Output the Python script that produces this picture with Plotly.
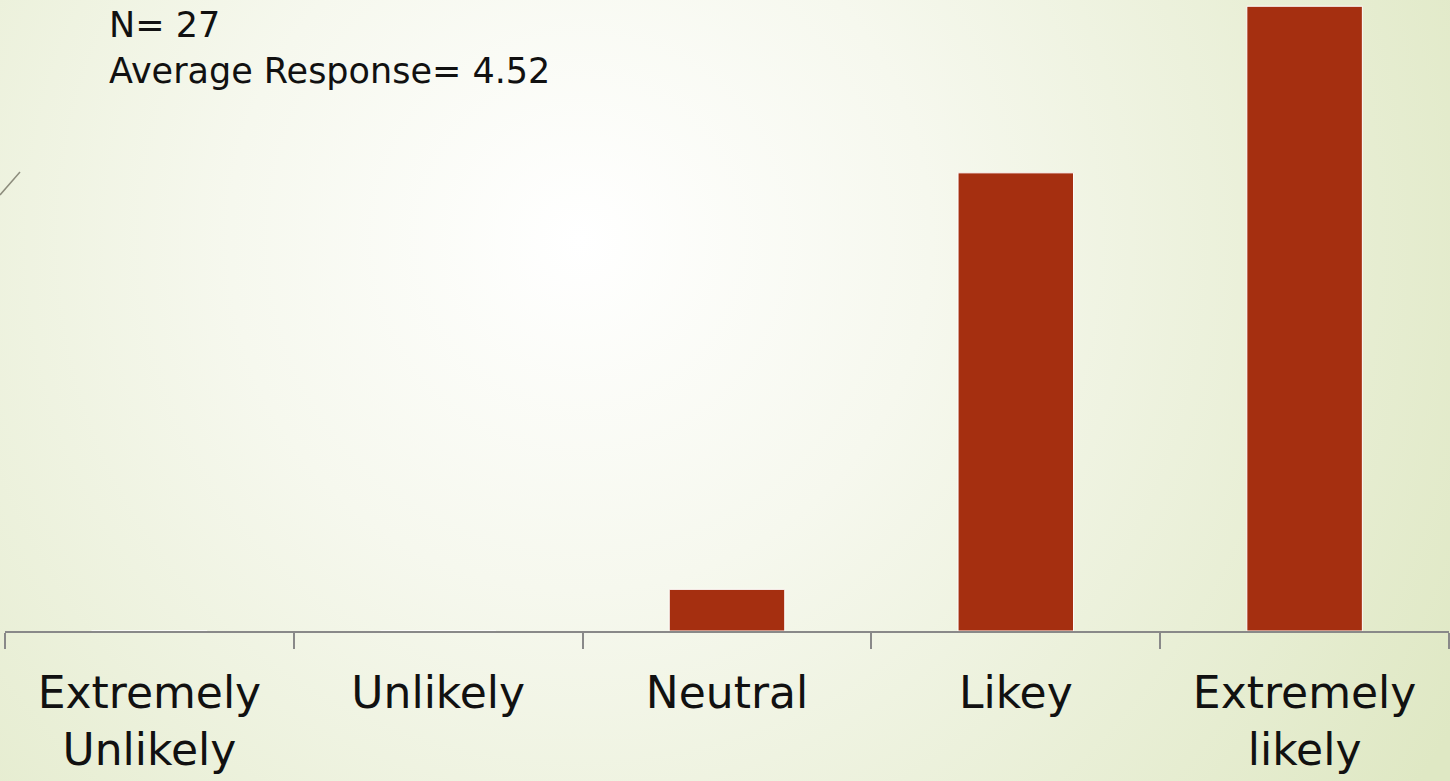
import base64
import plotly.graph_objects as go

# survey responses
categories = ["Extremely<br>Unlikely", "Unlikely", "Neutral", "Likey", "Extremely<br>likely"]
counts = [0, 0, 1, 11, 15]
n_total = 27
avg_response = 4.52

# slide-like radial background
bg_svg = """<svg xmlns='http://www.w3.org/2000/svg' width='1450' height='781'>
<defs><radialGradient id='g' cx='580' cy='240' r='1000' gradientUnits='userSpaceOnUse'>
<stop offset='0' stop-color='#ffffff'/>
<stop offset='0.35' stop-color='#f6f8ee'/>
<stop offset='1' stop-color='#dfe8c4'/>
</radialGradient></defs>
<rect width='1450' height='781' fill='url(#g)'/></svg>"""
bg_uri = "data:image/svg+xml;base64," + base64.b64encode(bg_svg.encode()).decode()

fig = go.Figure()

fig.add_trace(go.Bar(
    x=categories,
    y=counts,
    marker=dict(color="#A52F10", line=dict(color="#ffffff", width=1)),
    showlegend=False))

fig.add_layout_image(dict(
    source=bg_uri, xref="paper", yref="paper",
    x=-5/1444, y=1, sizex=1450/1444, sizey=781/631,
    xanchor="left", yanchor="top", sizing="stretch", layer="below"))

fig.add_annotation(
    text="N= %d<br>Average Response= %.2f" % (n_total, avg_response),
    xref="paper", yref="paper", x=102/1444, y=1.0, yshift=-3,
    xanchor="left", yanchor="top", align="left", showarrow=False,
    font=dict(family="DejaVu Sans", size=35, color="#111111"))

# small decorative stroke on the left edge
fig.add_shape(type="line", xref="paper", yref="paper",
              x0=-5/1444, y0=1-195/631, x1=15/1444, y1=1-172/631,
              line=dict(color="#8c8c7c", width=1.5))

fig.update_layout(
    width=1450, height=781,
    margin=dict(l=5, r=1, t=0, b=150),
    paper_bgcolor="#eef2df",
    plot_bgcolor="rgba(0,0,0,0)",
    bargap=0.6,
    font=dict(family="DejaVu Sans", color="#111111"),
    xaxis=dict(
        showline=True, linecolor="#898989", linewidth=2,
        ticks="outside", tickson="boundaries", ticklen=16, tickcolor="#898989", tickwidth=2,
        tickfont=dict(size=44, color="#111111"),
        ticklabelstandoff=22,
        showgrid=False),
    yaxis=dict(range=[0, 15.15], visible=False, showgrid=False),
)

# drop the page margin so the figure fills the window
fig.write_html("out.html", config={"displayModeBar": False},
               post_script="document.body.style.margin='0';")
